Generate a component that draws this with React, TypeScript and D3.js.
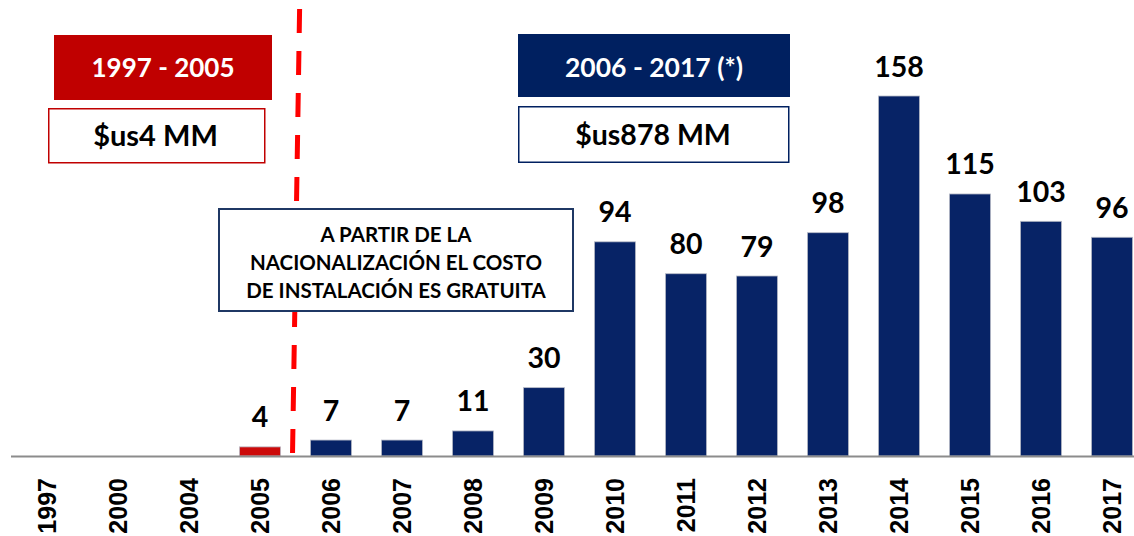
import React from "react";
import * as d3 from "d3";

const years = ["1997", "2000", "2004", "2005", "2006", "2007", "2008", "2009", "2010", "2011", "2012", "2013", "2014", "2015", "2016", "2017"];
const values = [0, 0, 0, 4, 7, 7, 11, 30, 94, 80, 79, 98, 158, 115, 103, 96];
const prePeriod = ["1997", "2000", "2004", "2005"];
const noteLines = ["A PARTIR DE LA", "NACIONALIZACIÓN EL COSTO", "DE INSTALACIÓN ES GRATUITA"];
const leftTitle = "1997 - 2005";
const leftTotal = "$us4 MM";
const rightTitle = "2006 - 2017 (*)";
const rightTotal = "$us878 MM";

const W = 1134;
const H = 536;
const RED = "#C00000";
const NAVY = "#002060";
const BAR_NAVY = "#072366";
const CAL = "Lato, 'Open Sans', sans-serif";

export default function App() {
  const x = d3.scaleBand<string>().domain(years).range([11.5, 1147.5]).paddingInner(0.42).paddingOuter(0.21);
  const y = d3.scaleLinear().domain([0, 158]).range([456, 96]);
  const bw = x.bandwidth();

  return (
    <svg width={W} height={H} style={{ position: "absolute", left: 0, top: 0, background: "#fff" }}>
      <rect x={0} y={0} width={W} height={H} fill="#fff" />
      {/* dashed divider */}
      <line x1={299.6} y1={9} x2={292.5} y2={455} stroke="#FF0000" strokeWidth={5} strokeDasharray="24 18" />

      {/* bars */}
      {years.map((yr, i) => {
        const v = values[i];
        if (v <= 0) return null;
        const isPre = prePeriod.includes(yr);
        return (
          <g key={yr}>
            <rect
              x={x(yr)!}
              y={y(v)}
              width={bw}
              height={y(0) - y(v)}
              fill={isPre ? "#CC0A0A" : BAR_NAVY}
              stroke="#B8BCC8"
              strokeWidth={0.8}
            />
            <text
              x={x(yr)! + bw / 2}
              y={y(v) - 19.5}
              textAnchor="middle"
              fontFamily={CAL}
              fontWeight={700}
              fontSize={28.5}
              fill="#000"
            >
              {v}
            </text>
          </g>
        );
      })}

      {/* baseline */}
      <line x1={11} y1={456.5} x2={W} y2={456.5} stroke="#8C8C8C" strokeWidth={2} />

      {/* axis labels */}
      {years.map((yr) => (
        <text
          key={"l" + yr}
          transform={`translate(${x(yr)! + bw / 2},478) rotate(-90)`}
          textAnchor="end"
          dy="0.36em"
          fontFamily="'Liberation Sans', Arial, sans-serif"
          fontWeight={700}
          fontSize={25}
          fill="#000"
        >
          {yr}
        </text>
      ))}

      {/* left header boxes */}
      <rect x={54} y={35} width={218} height={65} fill={RED} />
      <text x={163} y={77} textAnchor="middle" fontFamily={CAL} fontWeight={700} fontSize={26} fill="#fff">
        {leftTitle}
      </text>
      <rect x={48.75} y={108.75} width={216} height={54} fill="#fff" stroke={RED} strokeWidth={1.5} />
      <text x={155.5} y={146} textAnchor="middle" fontFamily={CAL} fontWeight={700} fontSize={29} fill="#000">
        {leftTotal}
      </text>

      {/* right header boxes */}
      <rect x={518} y={34} width={272} height={63} fill={NAVY} />
      <text x={654} y={77} textAnchor="middle" fontFamily={CAL} fontWeight={700} fontSize={26.5} fill="#fff">
        {rightTitle}
      </text>
      <rect x={518.75} y={106.75} width={270} height={55.5} fill="#fff" stroke={NAVY} strokeWidth={1.5} />
      <text x={653} y={145} textAnchor="middle" fontFamily={CAL} fontWeight={700} fontSize={28.5} fill="#000">
        {rightTotal}
      </text>

      {/* note box */}
      <rect x={219} y={209} width={354} height={102} fill="#fff" stroke="#1F3864" strokeWidth={2} />
      {noteLines.map((t, i) => (
        <text
          key={t}
          x={396}
          y={242 + i * 28}
          textAnchor="middle"
          fontFamily={CAL}
          fontWeight={700}
          fontSize={20.5}
          fill="#000"
        >
          {t}
        </text>
      ))}
    </svg>
  );
}
